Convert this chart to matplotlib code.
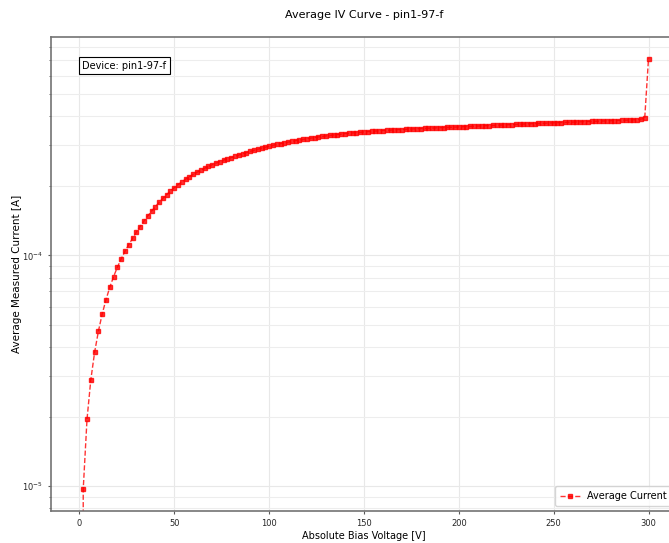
import matplotlib
matplotlib.use('Agg')
import matplotlib.pyplot as plt
import numpy as np

# bias sweep, 0 V to 300 V in 2 V steps
bias_voltage = list(range(0, 301, 2))

# average measured current in micro-amps
current_uA = [
  0.0, 9.7, 19.5, 28.9, 38.0, 46.9, 55.7, 64.3, 72.7, 80.9,
  88.8, 96.5, 104.0, 111.3, 118.4, 126.0, 133.3, 140.6, 148.0, 155.3,
  162.5, 169.6, 176.6, 183.4, 190.0, 196.4, 202.5, 208.3, 213.9, 219.2,
  224.3, 229.2, 234.0, 238.5, 242.8, 247.0, 251.0, 254.8, 258.5, 262.0,
  265.0, 268.5, 272.0, 275.4, 278.7, 282.0, 285.2, 288.3, 291.3, 294.2,
  297.0, 299.7, 302.3, 304.8, 307.2, 309.5, 311.8, 314.0, 316.1, 318.2,
  320.2, 322.1, 324.0, 325.8, 327.5, 329.2, 330.8, 332.3, 333.8, 335.2,
  336.6, 337.9, 339.1, 340.3, 341.4, 342.5, 343.5, 344.5, 345.5, 346.4,
  347.3, 348.1, 348.9, 349.7, 350.4, 351.1, 351.8, 352.5, 353.1, 353.7,
  354.3, 354.9, 355.5, 356.1, 356.7, 357.3, 357.9, 358.5, 359.1, 359.7,
  360.3, 360.9, 361.5, 362.1, 362.7, 363.3, 363.9, 364.5, 365.1, 365.7,
  366.3, 366.9, 367.5, 368.1, 368.7, 369.3, 369.9, 370.5, 371.1, 371.7,
  372.3, 372.9, 373.5, 374.1, 374.7, 375.3, 375.8, 376.3, 376.8, 377.3,
  377.8, 378.3, 378.8, 379.3, 379.8, 380.3, 380.8, 381.3, 381.8, 382.3,
  382.8, 383.3, 383.8, 384.4, 385.0, 385.7, 386.5, 387.6, 389.3, 392.5,
  713.0,
]

device = 'pin1-97-f'

current = np.array(current_uA) * 1e-6

fig = plt.figure(figsize=(6.69, 5.43), dpi=100)
ax = fig.add_axes([0.0762, 0.0595, 0.9357, 0.8724])

ax.plot(bias_voltage, current, linestyle='--', marker='s', color='red',
        alpha=0.8, linewidth=1.0, markersize=3.3, label='Average Current')
ax.set_yscale('log')

ax.set_xlabel('Absolute Bias Voltage [V]', fontsize=7, labelpad=2)
ax.set_ylabel('Average Measured Current [A]', fontsize=7.5, labelpad=0)
ax.set_title('Average IV Curve - ' + device, fontsize=8, pad=14)

# grid: major on both axes, minor on the log axis
ax.grid(True, which='major', color='0.91', linewidth=0.8)
ax.grid(True, which='minor', axis='y', color='0.93', linewidth=0.8)

ax.tick_params(axis='both', which='both', labelsize=6, colors='0.35',
               labelcolor='0.15', length=2.5)
ax.tick_params(axis='y', which='minor', length=1.5)

for spine in ax.spines.values():
  spine.set_color('0.45')
  spine.set_linewidth(1.2)

ax.text(0.05, 0.95, 'Device: ' + device, transform=ax.transAxes,
        fontsize=7, va='top', ha='left',
        bbox=dict(boxstyle='square,pad=0.35', facecolor='white', edgecolor='black', linewidth=0.8))

ax.legend(loc='lower right', fontsize=7, framealpha=0.8, fancybox=True,
          borderpad=0.5, handlelength=2.0)

fig.savefig('out.png', dpi=100)
